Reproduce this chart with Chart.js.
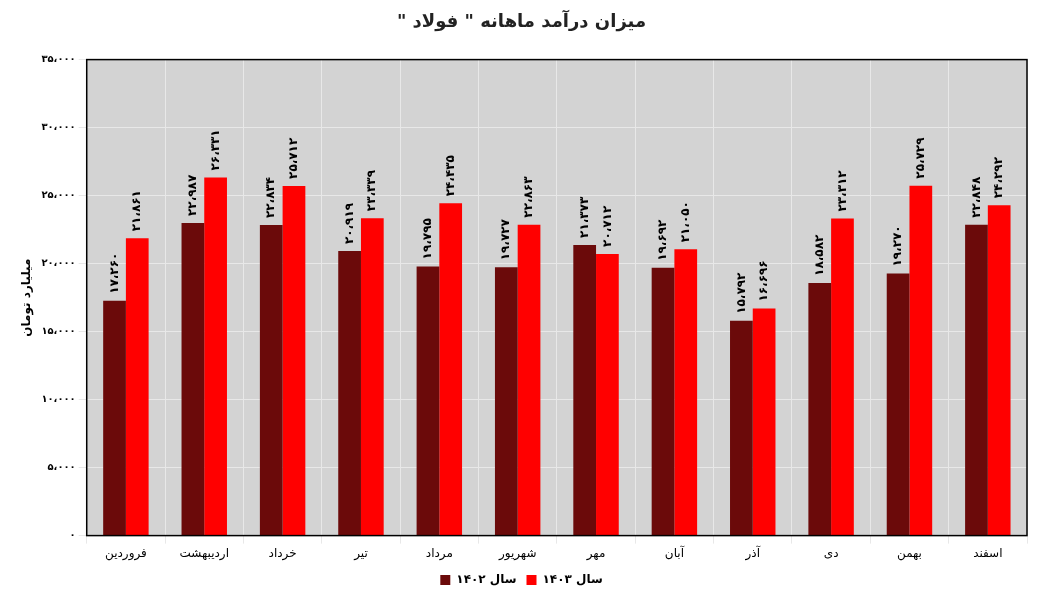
<!DOCTYPE html>
<html><head><meta charset="utf-8">
<script src="https://cdn.jsdelivr.net/npm/chart.js@4"></script>
<style>body{margin:0;background:#fff}#wrap{width:1037px;height:608px}</style>
</head><body><div id="wrap"><canvas id="c"></canvas></div>
<script>
const months = ['فروردین','اردیبهشت','خرداد','تیر','مرداد','شهریور','مهر','آبان','آذر','دی','بهمن','اسفند'];
const rev1402 = [17260,22987,22834,20919,19795,19727,21373,19692,15792,18582,19270,22848];
const rev1403 = [21861,26331,25712,23339,24435,22863,20712,21050,16696,23312,25729,24292];

function fa(n){
  return n.toLocaleString('en-US').replace(/,/g,'،').replace(/\d/g,d=>'۰۱۲۳۴۵۶۷۸۹'[d]);
}

const bgPlugin = {
  id:'bg',
  beforeDraw(chart){
    const {ctx, chartArea:a} = chart;
    ctx.save();ctx.fillStyle='#d3d3d3';ctx.fillRect(a.left,a.top,a.right-a.left,a.bottom-a.top);ctx.restore();
  },
  afterDraw(chart){
    const {ctx, chartArea:a} = chart;
    ctx.save();ctx.strokeStyle='#000';ctx.lineWidth=1.5;ctx.strokeRect(a.left,a.top,a.right-a.left,a.bottom-a.top);ctx.restore();
  }
};
const labelPlugin = {
  id:'vlabels',
  afterDatasetsDraw(chart){
    const ctx = chart.ctx;
    chart.data.datasets.forEach((ds,i)=>{
      chart.getDatasetMeta(i).data.forEach((bar,j)=>{
        ctx.save();
        ctx.translate(bar.x, bar.y-7);
        ctx.rotate(-Math.PI/2);
        ctx.font='bold 12px "DejaVu Sans"';
        ctx.fillStyle='#000';ctx.textAlign='left';ctx.textBaseline='middle';
        ctx.fillText(fa(ds.data[j]),0,0);
        ctx.restore();
      });
    });
  }
};

new Chart(document.getElementById('c'),{
  type:'bar',
  data:{labels:months,datasets:[
    {label:'سال ۱۴۰۲',data:rev1402,backgroundColor:'#6b0a0a',categoryPercentage:0.58,barPercentage:1},
    {label:'سال ۱۴۰۳',data:rev1403,backgroundColor:'#ff0000',categoryPercentage:0.58,barPercentage:1}
  ]},
  options:{
    responsive:true,maintainAspectRatio:false,animation:false,
    layout:{padding:{left:16,right:10,top:4,bottom:12}},
    plugins:{
      title:{display:true,text:'میزان درآمد ماهانه " فولاد "\u200F',font:{size:18,weight:'bold',family:'DejaVu Sans'},color:'#222',padding:{top:8,bottom:26}},
      legend:{position:'bottom',labels:{boxWidth:10,boxHeight:10,font:{size:12,weight:'bold',family:'DejaVu Sans'},color:'#000'}},
      tooltip:{enabled:false}
    },
    scales:{
      x:{grid:{color:'#e8e8e8',offset:true},ticks:{color:'#000',font:{size:12,family:'DejaVu Sans'}}},
      y:{min:0,max:35000,ticks:{stepSize:5000,color:'#000',font:{size:10,weight:'bold',family:'DejaVu Sans'},callback:v=>fa(v)},
         grid:{color:'#e8e8e8'},
         title:{display:true,text:'میلیارد تومان',color:'#000',font:{size:12,weight:'bold',family:'DejaVu Sans'}}}
    }
  },
  plugins:[bgPlugin,labelPlugin]
});
</script></body></html>
